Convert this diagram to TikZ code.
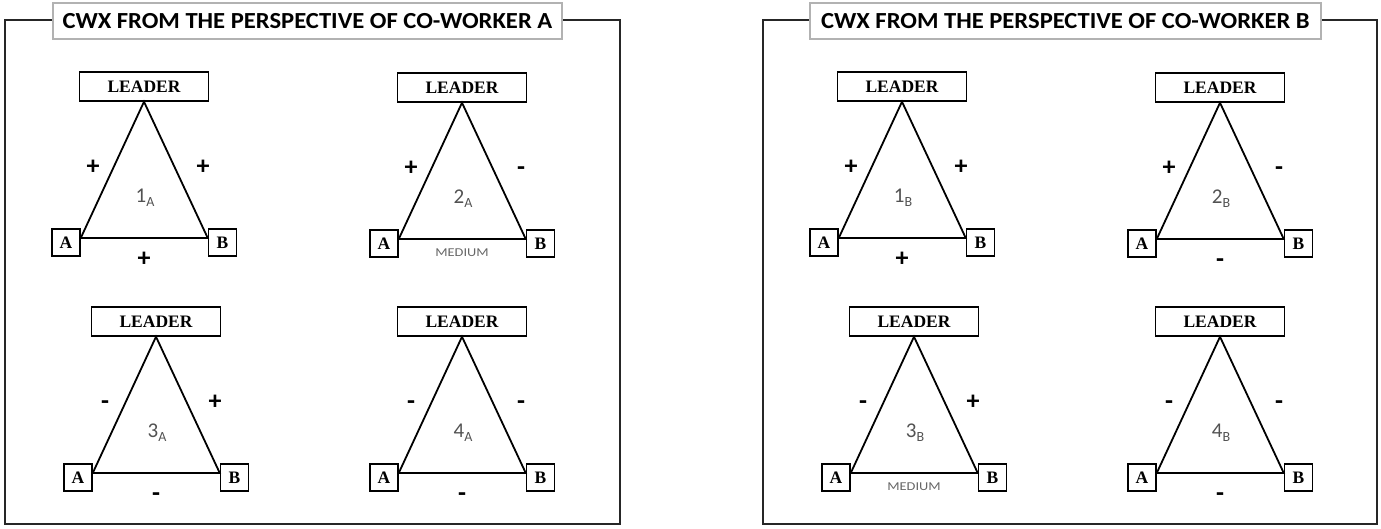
\documentclass[tikz,border=0pt]{standalone}
\usepackage{fontspec}
\setmainfont{Liberation Serif}
\newfontfamily\calfont{Carlito}
\newfontfamily\calwide[FakeStretch=1.07]{Carlito}
\newfontfamily\calmed[FakeStretch=1.2]{Carlito}
\tikzset{
  frame/.style={draw=black!85, line width=2pt},
  titlebox/.style={draw=black!30, line width=1.2pt, fill=white, minimum height=36pt, inner sep=0pt, font=\calwide\bfseries\fontsize{23}{23}\selectfont},
  leaderbox/.style={draw, line width=1.5pt, minimum width=129pt, minimum height=29pt, inner sep=0pt, font=\bfseries\fontsize{17.5}{17.5}\selectfont},
  corner/.style={draw, line width=1.5pt, minimum width=28pt, minimum height=27pt, inner sep=0pt, font=\bfseries\fontsize{17.5}{17.5}\selectfont},
  side/.style={line width=1.8pt},
  sign/.style={font=\calfont\bfseries\fontsize{26}{26}\selectfont, inner sep=0pt, text height=14pt, text depth=0pt},
  medium/.style={font=\calmed\fontsize{12}{12}\selectfont, text=black!60, inner sep=0pt},
  num/.style={font=\calfont\fontsize{21}{21}\selectfont, text=black!68, inner sep=0pt}
}
% #1 prefix, #2 apex x, #3 apex y, #4 left sign, #5 right sign, #6 bottom label node options, #7 bottom text, #8 number, #9 sub
\newcommand\mytri[9]{%
  \node[leaderbox] (#1L) at (#2,{#3-14.5}) {LEADER};
  \node[corner] (#1A) at ({#2-78},{#3+141.5}) {A};
  \node[corner] (#1B) at ({#2+78.5},{#3+141.5}) {B};
  \draw[side] (#1L.south) -- ([yshift=4.5pt]#1A.east) -- ([yshift=4.5pt]#1B.west) -- cycle;
  \node[sign] (#1l) at ({#2-51},{#3+66}) {#4};
  \node[sign] (#1r) at ({#2+59},{#3+66}) {#5};
  \node[#6] (#1b) at (#2,{#3+158}) {#7};
  \node[num] (#1n) at ({#2+1},{#3+97}) {#8\raisebox{-4pt}{\fontsize{14}{14}\selectfont #9}};
}
\begin{document}
\begin{tikzpicture}[x=1pt,y=-1pt]
\useasboundingbox (0,0) rectangle (1381,528);
% left panel
\draw[frame] (5,20) rectangle (620,524);
\node[titlebox, minimum width=509pt] (tA) at (307.5,21) {CWX FROM THE PERSPECTIVE OF CO-WORKER A};
\mytri{a1}{144}{101}{+}{+}{sign}{+}{1}{A}
\mytri{a2}{462}{102}{+}{-}{medium, yshift=7pt}{MEDIUM}{2}{A}
\mytri{a3}{156}{336}{-}{+}{sign}{-}{3}{A}
\mytri{a4}{462}{336}{-}{-}{sign}{-}{4}{A}
% right panel
\draw[frame] (763,20) rectangle (1377,524);
\node[titlebox, minimum width=511pt] (tB) at (1065.5,21) {CWX FROM THE PERSPECTIVE OF CO-WORKER B};
\mytri{b1}{902}{101}{+}{+}{sign}{+}{1}{B}
\mytri{b2}{1220}{102}{+}{-}{sign}{-}{2}{B}
\mytri{b3}{914}{336}{-}{+}{medium, yshift=7pt}{MEDIUM}{3}{B}
\mytri{b4}{1220}{336}{-}{-}{sign}{-}{4}{B}
\end{tikzpicture}
\end{document}
